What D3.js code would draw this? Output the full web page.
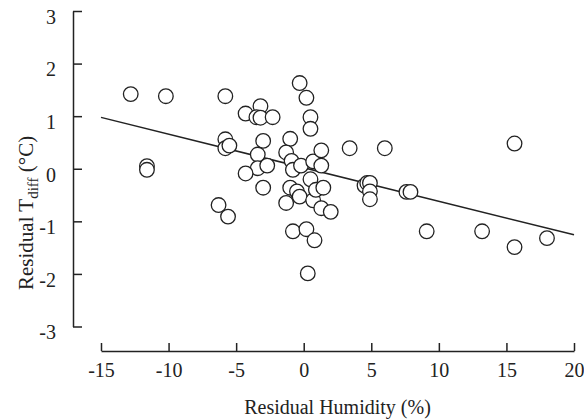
<!DOCTYPE html>
<html>
<head>
<meta charset="utf-8">
<script src="https://cdn.jsdelivr.net/npm/d3@7"></script>
<style>
	body { margin: 0; background: #fff; }
	svg text { font-family: 'Liberation Serif', 'Times New Roman', serif; fill: #222; }
</style>
</head>
<body>
<div id="chart"></div>
<script>
// residual humidity (%) and residual Tdiff (°C) for each observation
const humidity = [
	-12.8, -10.2, -5.8, -11.6, -11.6, -0.3, 0.2, -4.3, -3.2, -3.5,
	-3.2, -2.3, 0.5, 0.5, -5.8, -5.8, -5.5, -3.0, -1.0, -3.4,
	-1.3, -0.9, -0.8, -0.2, 0.7, 1.3, 1.3, 3.4, 6.0, 15.6,
	-3.4, -2.7, -4.3, -3.0, -6.3, -5.6, -1.0, -0.5, -0.3, -1.3,
	0.5, 0.7, 0.9, 1.45, 1.3, 2.0, -0.8, 0.2, 0.8, 0.3,
	4.5, 4.7, 4.9, 4.9, 4.9, 7.6, 7.9, 9.1, 13.2, 15.6,
	18.0
];
const tdiff = [
	1.42, 1.38, 1.38, 0.05, -0.02, 1.63, 1.35, 1.05, 1.19, 0.98,
	0.97, 0.98, 0.98, 0.76, 0.56, 0.39, 0.44, 0.53, 0.57, 0.27,
	0.31, 0.15, -0.02, 0.06, 0.14, 0.35, 0.06, 0.39, 0.39, 0.48,
	0.01, 0.06, -0.09, -0.36, -0.69, -0.91, -0.36, -0.43, -0.53, -0.65,
	-0.2, -0.6, -0.4, -0.36, -0.75, -0.82, -1.19, -1.15, -1.36, -1.99,
	-0.32, -0.27, -0.27, -0.43, -0.58, -0.44, -0.44, -1.19, -1.19, -1.49,
	-1.32
];
// fitted regression line end points
const fitX = [-15, 20];
const fitY = [0.977, -1.257];
const xTicks = [-15, -10, -5, 0, 5, 10, 15, 20];
const yTicks = [-3, -2, -1, 0, 1, 2, 3];

const svg = d3.select('#chart')
	.append('svg')
	.attr('width', 584)
	.attr('height', 420);

const x = d3.scaleLinear().domain([-15, 20]).range([101, 574]);
const y = d3.scaleLinear().domain([-3, 3]).range([326.5, 11]);

// plain hyphen for negatives, as in the original
const fmt = (d) => String(d);

// x axis sits below the plot, ticks point up
const xAxis = svg.append('g')
	.attr('transform', 'translate(0,351)')
	.call(d3.axisBottom(x).tickValues(xTicks).tickSizeInner(-8).tickSizeOuter(0).tickFormat(fmt));
xAxis.selectAll('text')
	.attr('y', 12)
	.attr('dy', '0.71em')
	.style('font-size', '20px');

// y axis, ticks point right
const yAxis = svg.append('g')
	.attr('transform', 'translate(73,0)')
	.call(d3.axisLeft(y).tickValues(yTicks).tickSizeInner(-9).tickSizeOuter(0).tickFormat(fmt));
yAxis.selectAll('text')
	.attr('x', -17)
	.attr('dy', '0.62em')
	.style('font-size', '20px');

svg.selectAll('.domain, .tick line')
	.attr('stroke', '#222')
	.attr('stroke-width', 1.5);
svg.selectAll('.tick text').attr('fill', '#222');

// regression line
svg.append('line')
	.attr('x1', x(fitX[0]))
	.attr('y1', y(fitY[0]))
	.attr('x2', x(fitX[1]))
	.attr('y2', y(fitY[1]))
	.attr('stroke', '#222')
	.attr('stroke-width', 1.5);

// points
svg.selectAll('circle.pt')
	.data(humidity.map((h, i) => [h, tdiff[i]]))
	.enter()
	.append('circle')
	.attr('class', 'pt')
	.attr('cx', (d) => x(d[0]))
	.attr('cy', (d) => y(d[1]))
	.attr('r', 7.3)
	.attr('fill', '#fff')
	.attr('stroke', '#222')
	.attr('stroke-width', 1.3);

// axis titles
svg.append('text')
	.attr('x', x(2.5))
	.attr('y', 414)
	.attr('text-anchor', 'middle')
	.style('font-size', '20px')
	.text('Residual Humidity (%)');

const yTitle = svg.append('text')
	.attr('transform', 'translate(33,290) rotate(-90)')
	.attr('text-anchor', 'start')
	.style('font-size', '21px');
yTitle.append('tspan').text('Residual T');
yTitle.append('tspan').attr('dy', 5).style('font-size', '15px').text('diff');
yTitle.append('tspan').attr('dy', -5).text(' (°C)');
</script>
</body>
</html>
